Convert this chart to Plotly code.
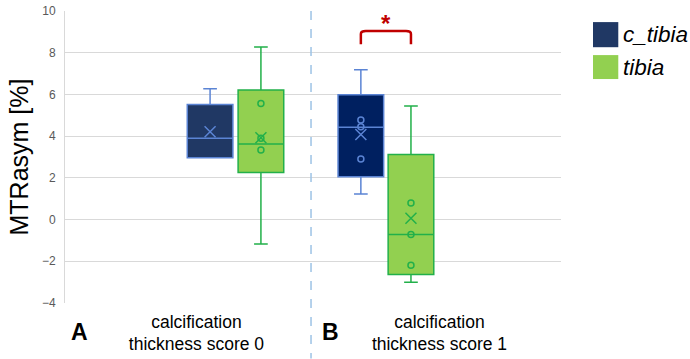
import plotly.graph_objects as go

# ---------------- data ----------------
categories = ["calcification<br>thickness score 0", "calcification<br>thickness score 1"]
panel_labels = ["A", "B"]
series_names = ["c_tibia", "tibia"]

# per series: [score 0, score 1]
c_tibia_q1 = [2.96, 2.05]
c_tibia_median = [3.90, 4.43]
c_tibia_q3 = [5.52, 5.98]
c_tibia_low = [2.96, 1.23]
c_tibia_high = [6.27, 7.18]
c_tibia_mean = [4.21, 4.08]
c_tibia_points = [[], [4.77, 4.45, 2.91]]

tibia_q1 = [2.26, -2.63]
tibia_median = [3.62, -0.72]
tibia_q3 = [6.21, 3.12]
tibia_low = [-1.17, -3.01]
tibia_high = [8.27, 5.44]
tibia_mean = [3.92, 0.06]
tibia_points = [[5.57, 3.90, 3.34], [0.80, -0.72, -2.19]]

y_ticks = [-4, -2, 0, 2, 4, 6, 8, 10]

# ---------------- style / layout ----------------
FONT = "Arial, Liberation Sans, sans-serif"
c_fill = ["#203864", "#002060"]
c_line = "#5B84D4"
t_fill = "#92D050"
t_line = "#22B04A"
box_w = 0.184

c_pos = [0.585, 1.193]
t_pos = [0.790, 1.395]

fig = go.Figure()

def add_series(pos, q1, med, q3, lo, hi, mean, pts, fills, line):
    for i in range(2):
        fig.add_trace(go.Box(
            x=[pos[i]], q1=[q1[i]], median=[med[i]], q3=[q3[i]],
            lowerfence=[lo[i]], upperfence=[hi[i]],
            width=box_w, whiskerwidth=0.3,
            fillcolor=fills[i], line=dict(color=line, width=1.5),
            boxpoints=False, showlegend=False, hoverinfo="skip"))
        fig.add_trace(go.Scatter(
            x=[pos[i]], y=[mean[i]], mode="markers",
            marker=dict(symbol="x-thin-open", size=11, color=line,
                        line=dict(color=line, width=1.5)),
            showlegend=False, hoverinfo="skip"))
        if pts[i]:
            fig.add_trace(go.Scatter(
                x=[pos[i]] * len(pts[i]), y=pts[i], mode="markers",
                marker=dict(symbol="circle-open", size=6, color=line,
                            line=dict(color=line, width=1.5)),
                showlegend=False, hoverinfo="skip"))

add_series(c_pos, c_tibia_q1, c_tibia_median, c_tibia_q3, c_tibia_low,
           c_tibia_high, c_tibia_mean, c_tibia_points, c_fill, c_line)
add_series(t_pos, tibia_q1, tibia_median, tibia_q3, tibia_low,
           tibia_high, tibia_mean, tibia_points, [t_fill, t_fill], t_line)

# significance bracket
bx0, bx1 = c_pos[1], t_pos[1]
fig.add_shape(type="path",
              path=f"M {bx0},8.40 L {bx0},8.90 Q {bx0},9.04 {bx0+0.02},9.04 "
                   f"L {bx1-0.02},9.04 Q {bx1},9.04 {bx1},8.90 L {bx1},8.40",
              line=dict(color="#C00000", width=2.5), xref="x", yref="y")
fig.add_annotation(x=(bx0 + bx1) / 2, y=9.42, text="<b>*</b>", showarrow=False,
                   font=dict(family=FONT, size=24, color="#C00000"),
                   xref="x", yref="y", yanchor="middle")

# dashed separator
fig.add_shape(type="line", x0=0.992, x1=0.992, y0=1.0, y1=-0.19,
              xref="x", yref="paper",
              line=dict(color="#9DC3E6", width=1.5, dash="dash"))

# panel labels
for px, lab in zip([0.06, 1.07], panel_labels):
    fig.add_annotation(x=px, y=-0.098, xref="x", yref="paper", text=f"<b>{lab}</b>",
                       showarrow=False, yanchor="middle",
                       font=dict(family=FONT, size=23, color="black"))

# legend drawn manually
sw_x0, sw_x1 = 1.0645, 1.1155
leg = [(series_names[0], "#203864", 0.962, 0.876), (series_names[1], t_fill, 0.849, 0.767)]
for name, col, ya, yb in leg:
    fig.add_shape(type="rect", x0=sw_x0, x1=sw_x1, y0=yb, y1=ya,
                  xref="paper", yref="paper", fillcolor=col, line=dict(width=0))
    fig.add_annotation(x=1.121, y=(ya + yb) / 2, xref="paper", yref="paper",
                       text=f"<i>{name}</i>", showarrow=False,
                       xanchor="left", yanchor="middle",
                       font=dict(family=FONT, size=22.5, color="black"))

fig.update_layout(
    width=690, height=359,
    margin=dict(l=65, r=129, t=11, b=56, autoexpand=False),
    paper_bgcolor="white", plot_bgcolor="white",
    font=dict(family=FONT),
    showlegend=False,
    xaxis=dict(range=[0, 2], showgrid=False, zeroline=False, automargin=False,
               tickvals=[0.53, 1.51], ticktext=categories, ticks="",
               tickfont=dict(family=FONT, size=17.5, color="black"),
               ticklabelstandoff=6, showline=False),
    yaxis=dict(range=[-4, 10], tickvals=y_ticks, showgrid=True, automargin=False,
               gridcolor="#D9D9D9", gridwidth=1, zeroline=False,
               showline=True, linecolor="#D9D9D9", linewidth=1,
               tickfont=dict(family=FONT, size=12, color="#595959"),
               ticklabelstandoff=6,
               title=dict(text="MTRasym [%]", standoff=6,
                          font=dict(family=FONT, size=25, color="black"))),
)

fig.write_html("out.html")
